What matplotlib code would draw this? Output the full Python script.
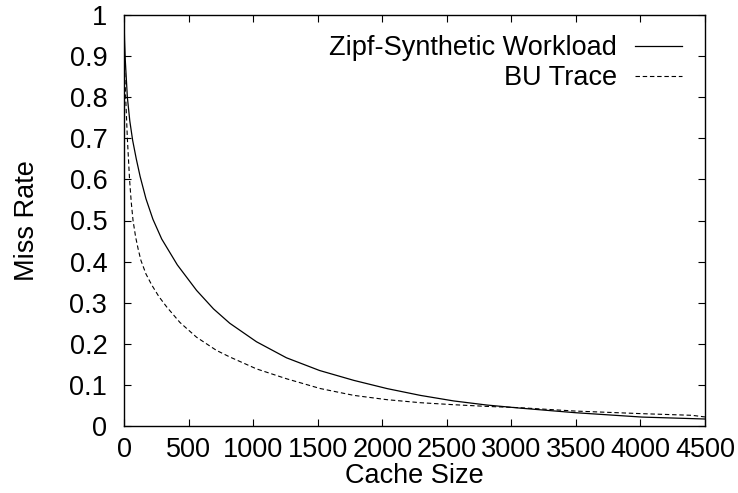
import numpy as np
import matplotlib
matplotlib.use("Agg")
import matplotlib.pyplot as plt

# =========================
# Dados
# =========================
zipf_cache = [0, 4, 10, 26, 45, 67, 95, 125, 170, 224, 292, 413, 562, 693, 819, 1026,
              1258, 1515, 1780, 2038, 2295, 2553, 2810, 3068, 3498, 4013, 4500]
zipf_miss = [1.0, 0.94, 0.89, 0.8, 0.742, 0.695, 0.65, 0.607, 0.553, 0.503, 0.455, 0.392,
             0.33, 0.285, 0.25, 0.205, 0.166, 0.135, 0.111, 0.091, 0.0745, 0.061, 0.051,
             0.0435, 0.0323, 0.0217, 0.017]

bu_cache = [0, 3, 7, 13, 26, 43, 56, 70, 90, 110, 131, 170, 215, 270, 330, 433, 562, 716,
            819, 1026, 1258, 1522, 1780, 2038, 2295, 2553, 2810, 3068, 3498, 4013, 4400,
            4500]
bu_miss = [1.0, 0.9, 0.85, 0.8, 0.7, 0.6, 0.545, 0.5, 0.46, 0.43, 0.403, 0.37, 0.343,
           0.315, 0.29, 0.252, 0.216, 0.184, 0.168, 0.139, 0.115, 0.091, 0.0745, 0.064,
           0.0567, 0.0518, 0.0477, 0.0445, 0.0363, 0.030, 0.026, 0.022]

x_ticks = list(range(0, 4501, 500))
y_ticks = [0, 0.1, 0.2, 0.3, 0.4, 0.5, 0.6, 0.7, 0.8, 0.9, 1]
y_tick_labels = ["0", "0.1", "0.2", "0.3", "0.4", "0.5", "0.6", "0.7", "0.8", "0.9", "1"]

plt.rcParams["font.family"] = ["Liberation Sans", "DejaVu Sans"]
fs = 19.5

fig = plt.figure(figsize=(7.38, 4.93), dpi=100)
ax = fig.add_axes([124 / 738, 1 - 426 / 493, (705 - 124) / 738, (426 - 15) / 493])

ax.plot(zipf_cache, zipf_miss, color="black", lw=0.9, label="Zipf-Synthetic Workload")
ax.plot(bu_cache, bu_miss, color="black", lw=0.8, dashes=(4, 2.5), label="BU Trace")

ax.set_xlim(0, 4500)
ax.set_ylim(0, 1)
ax.set_xticks(x_ticks)
ax.set_xticklabels([str(t) for t in x_ticks])
ax.set_yticks(y_ticks)
ax.set_yticklabels(y_tick_labels)

ax.tick_params(direction="in", length=5, width=0.8, top=True, right=True,
               labelsize=fs)
ax.tick_params(axis="x", pad=8)
ax.tick_params(axis="y", pad=12)
for s in ax.spines.values():
    s.set_linewidth(1.0)

ax.set_xlabel("Cache Size", fontsize=fs, labelpad=0)
ax.set_ylabel("Miss Rate", fontsize=fs, labelpad=21)

ax.legend(loc="upper right", bbox_to_anchor=(682 / 738, 1 - 35 / 493),
          bbox_transform=fig.transFigure, frameon=False, markerfirst=False,
          fontsize=fs, handlelength=1.75, handletextpad=0.65, labelspacing=0.15,
          borderpad=0, borderaxespad=0)

fig.savefig("out.png", dpi=100)
